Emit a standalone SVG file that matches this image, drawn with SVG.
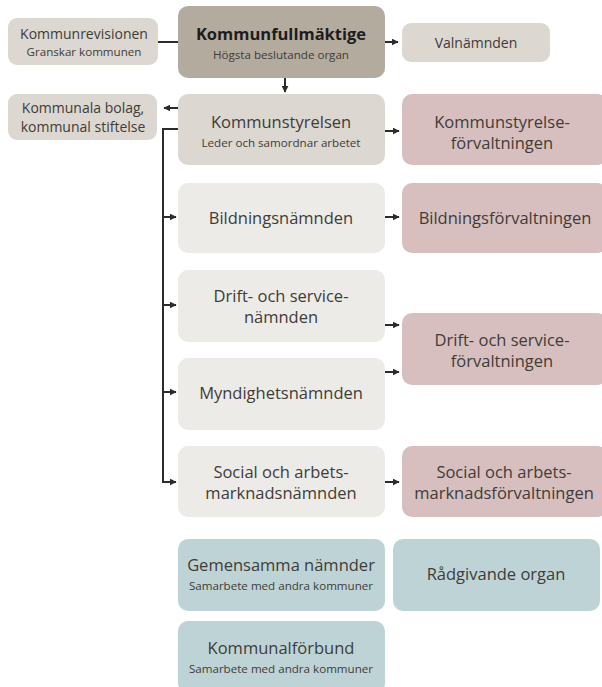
<svg xmlns="http://www.w3.org/2000/svg" width="602" height="687" viewBox="0 0 602 687">
<style>
text{font-family:"Open Sans","Liberation Sans",sans-serif;fill:#403c38;text-anchor:middle;dominant-baseline:central}
.g1{fill:#dcd7d0}.g0{fill:#b4ab9f}.g2{fill:#ecebe8}.p{fill:#d8bfbf}.t{fill:#bed3d6}
.m{font-size:16.5px}.s{font-size:11.6px}.r{font-size:14px}
.c{stroke:#2b2b2b;stroke-width:2;fill:none}
</style>
<defs>
<marker id="a" viewBox="0 0 10 10" refX="9" refY="5" markerWidth="3.5" markerHeight="3.5" orient="auto"><path d="M0,0L10,5L0,10z" fill="#2b2b2b"/></marker>
</defs>
<g id="connectors">
<path class="c" d="M158,42H178"/>
<path class="c" d="M385,42H398" marker-end="url(#a)"/>
<path class="c" d="M285,78V92" marker-end="url(#a)"/>
<path class="c" d="M178,108H164" marker-end="url(#a)"/>
<path class="c" d="M178,129H163V482H176" marker-end="url(#a)"/>
<path class="c" d="M163,217H176" marker-end="url(#a)"/>
<path class="c" d="M163,305H176" marker-end="url(#a)"/>
<path class="c" d="M163,392H176" marker-end="url(#a)"/>
<path class="c" d="M385,131H399" marker-end="url(#a)"/>
<path class="c" d="M385,217H399" marker-end="url(#a)"/>
<path class="c" d="M385,325H399" marker-end="url(#a)"/>
<path class="c" d="M385,372H399" marker-end="url(#a)"/>
<path class="c" d="M385,482H399" marker-end="url(#a)"/>
</g>
<g id="kommunrevisionen"><rect class="g1" x="8" y="18" width="150" height="47" rx="9"/><text class="r" x="84" y="33">Kommunrevisionen</text><text class="s" x="84" y="51">Granskar kommunen</text></g>
<g id="kommunfullmaktige"><rect class="g0" x="178" y="6" width="207" height="72" rx="10"/><text x="281" y="33" font-size="16.5" font-weight="bold" style="fill:#1e1d1b">Kommunfullmäktige</text><text class="s" x="281" y="54">Högsta beslutande organ</text></g>
<g id="valnamnden"><rect class="g1" x="402" y="23" width="148" height="39" rx="9"/><text class="r" x="476" y="42">Valnämnden</text></g>
<g id="bolag"><rect class="g1" x="8" y="94" width="149" height="46" rx="9"/><text class="r" x="83" y="107">Kommunala bolag,</text><text class="r" x="83" y="126">kommunal stiftelse</text></g>
<g id="kommunstyrelsen"><rect class="g1" x="178" y="94" width="207" height="71" rx="10"/><text class="m" x="281" y="121">Kommunstyrelsen</text><text class="s" x="281" y="142">Leder och samordnar arbetet</text></g>
<g id="ksf"><rect class="p" x="402" y="94" width="205" height="71" rx="10"/><text class="m" x="502" y="121">Kommunstyrelse-</text><text class="m" x="502" y="142">förvaltningen</text></g>
<g id="bildningsnamnden"><rect class="g2" x="178" y="183" width="207" height="70" rx="10"/><text class="m" x="281" y="217">Bildningsnämnden</text></g>
<g id="bildningsforvaltningen"><rect class="p" x="402" y="183" width="205" height="70" rx="10"/><text class="m" x="505" y="217">Bildningsförvaltningen</text></g>
<g id="driftnamnden"><rect class="g2" x="178" y="270" width="207" height="72" rx="10"/><text class="m" x="281" y="295">Drift- och service-</text><text class="m" x="281" y="316">nämnden</text></g>
<g id="driftforvaltningen"><rect class="p" x="402" y="313" width="205" height="72" rx="10"/><text class="m" x="502" y="339">Drift- och service-</text><text class="m" x="502" y="360">förvaltningen</text></g>
<g id="myndighetsnamnden"><rect class="g2" x="178" y="358" width="207" height="72" rx="10"/><text class="m" x="281" y="392">Myndighetsnämnden</text></g>
<g id="socialnamnden"><rect class="g2" x="178" y="446" width="207" height="71" rx="10"/><text class="m" x="281" y="471">Social och arbets-</text><text class="m" x="281" y="492">marknadsnämnden</text></g>
<g id="socialforvaltningen"><rect class="p" x="402" y="446" width="205" height="71" rx="10"/><text class="m" x="504" y="471">Social och arbets-</text><text class="m" x="504" y="492">marknadsförvaltningen</text></g>
<g id="gemensamma"><rect class="t" x="178" y="539" width="207" height="72" rx="10"/><text class="m" x="281" y="564">Gemensamma nämnder</text><text class="s" x="281" y="585">Samarbete med andra kommuner</text></g>
<g id="radgivande"><rect class="t" x="393" y="539" width="207" height="72" rx="10"/><text class="m" x="496" y="573">Rådgivande organ</text></g>
<g id="kommunalforbund"><rect class="t" x="178" y="621" width="207" height="72" rx="10"/><text class="m" x="281" y="647">Kommunalförbund</text><text class="s" x="281" y="668">Samarbete med andra kommuner</text></g>
</svg>
